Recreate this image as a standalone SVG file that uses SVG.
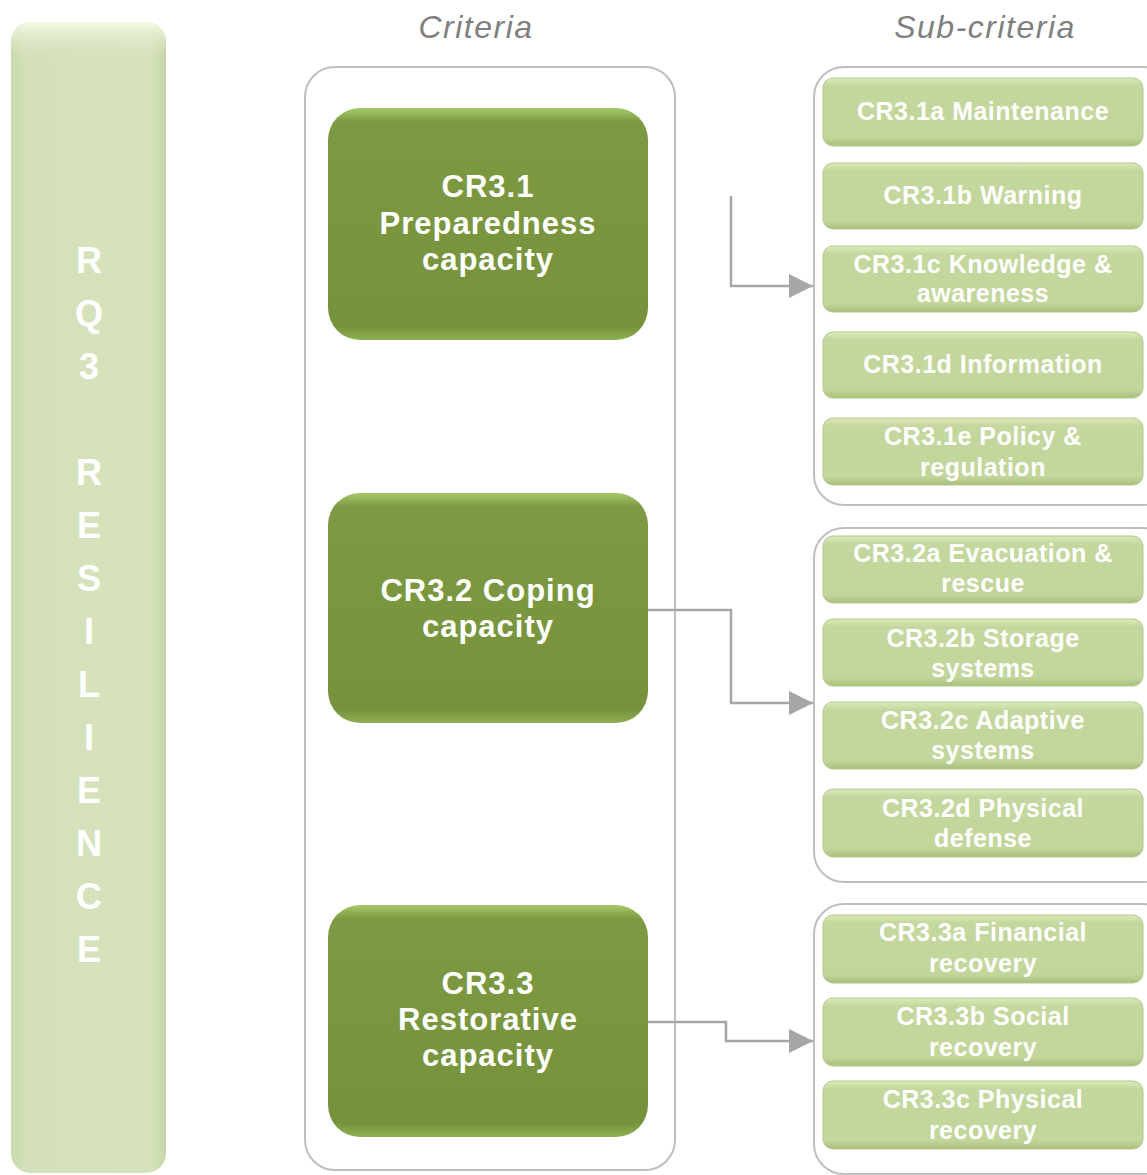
<svg xmlns="http://www.w3.org/2000/svg" width="1147" height="1175" viewBox="0 0 1147 1175">
<defs>
<linearGradient id="gBar" x1="0" y1="0" x2="1" y2="0">
<stop offset="0" stop-color="#c9d9ac"/><stop offset="0.1" stop-color="#d3e0ba"/><stop offset="0.9" stop-color="#d6e3bd"/><stop offset="1" stop-color="#c6d6a6"/>
</linearGradient>
<linearGradient id="gBarTop" x1="0" y1="0" x2="0" y2="1">
<stop offset="0" stop-color="#f4f9e4"/><stop offset="1" stop-color="#d5e2bc" stop-opacity="0"/>
</linearGradient>
<linearGradient id="gNode" x1="0" y1="0" x2="0" y2="1">
<stop offset="0" stop-color="#a7c96a"/><stop offset="0.06" stop-color="#7d9a42"/><stop offset="0.94" stop-color="#76923c"/><stop offset="1" stop-color="#8fb052"/>
</linearGradient>
<linearGradient id="gSub" x1="0" y1="0" x2="0" y2="1">
<stop offset="0" stop-color="#dcebb8"/><stop offset="0.12" stop-color="#c4d79e"/><stop offset="0.88" stop-color="#c2d59a"/><stop offset="1" stop-color="#a9bf7c"/>
</linearGradient>
<marker id="arr" viewBox="0 0 10 10" refX="10" refY="5" markerWidth="24" markerHeight="24" markerUnits="userSpaceOnUse" orient="auto">
<path d="M0,0 L10,5 L0,10 z" fill="#a6a6a6"/>
</marker>
<style>
.frame{fill:none;stroke:#bfbfbf;stroke-width:2}
.node{fill:url(#gNode)}
.sub{fill:url(#gSub);stroke:#b3c78d;stroke-width:1}
.nt{font-family:"Liberation Sans",Arial,sans-serif;font-weight:bold;font-size:31px;letter-spacing:1px;fill:#ffffff;text-anchor:middle}
.st{font-family:"Liberation Sans",Arial,sans-serif;font-weight:bold;font-size:25px;letter-spacing:0.5px;fill:#ffffff;text-anchor:middle}
.vt{font-family:"Liberation Sans",Arial,sans-serif;font-weight:bold;font-size:36px;fill:#ffffff;text-anchor:middle}
.hd{font-family:"Liberation Sans",Arial,sans-serif;font-style:italic;font-size:32px;letter-spacing:1.5px;fill:#7f7f7f;text-anchor:middle}
.conn{fill:none;stroke:#a6a6a6;stroke-width:2.5}
</style>
</defs>
<rect width="1147" height="1175" fill="#ffffff"/>

<g id="rq3">
<rect x="11" y="22" width="155" height="1151" rx="20" fill="url(#gBar)"/>
<rect x="11" y="22" width="155" height="40" rx="20" fill="url(#gBarTop)"/>
<text class="vt" x="89" y="273">R</text>
<text class="vt" x="89" y="326">Q</text>
<text class="vt" x="89" y="379">3</text>
<text class="vt" x="89" y="485">R</text>
<text class="vt" x="89" y="538">E</text>
<text class="vt" x="89" y="591">S</text>
<text class="vt" x="89" y="644">I</text>
<text class="vt" x="89" y="697">L</text>
<text class="vt" x="89" y="750">I</text>
<text class="vt" x="89" y="803">E</text>
<text class="vt" x="89" y="856">N</text>
<text class="vt" x="89" y="909">C</text>
<text class="vt" x="89" y="962">E</text>
</g>

<text class="hd" x="476" y="38">Criteria</text>
<text class="hd" x="985" y="38">Sub-criteria</text>

<g id="frames">
<rect class="frame" x="305" y="67" width="370" height="1103" rx="30"/>
<rect class="frame" x="814" y="67" width="360" height="438" rx="30"/>
<rect class="frame" x="814" y="528" width="360" height="354" rx="30"/>
<rect class="frame" x="814" y="904" width="360" height="270" rx="30"/>
</g>

<g id="connectors">
<path class="conn" d="M731,196 V286 H813" marker-end="url(#arr)"/>
<path class="conn" d="M648,610 H731 V703 H813" marker-end="url(#arr)"/>
<path class="conn" d="M648,1022 H726 V1041 H813" marker-end="url(#arr)"/>
</g>

<g id="cr31">
<rect class="node" x="328" y="108" width="320" height="232" rx="32"/>
<text class="nt" x="488" y="197">CR3.1</text>
<text class="nt" x="488" y="234">Preparedness</text>
<text class="nt" x="488" y="270">capacity</text>
</g>
<g id="cr32">
<rect class="node" x="328" y="493" width="320" height="230" rx="32"/>
<text class="nt" x="488" y="601">CR3.2 Coping</text>
<text class="nt" x="488" y="637">capacity</text>
</g>
<g id="cr33">
<rect class="node" x="328" y="905" width="320" height="232" rx="32"/>
<text class="nt" x="488" y="994">CR3.3</text>
<text class="nt" x="488" y="1030">Restorative</text>
<text class="nt" x="488" y="1066">capacity</text>
</g>

<g id="cr31a"><rect class="sub" x="823" y="78" width="320" height="68" rx="10"/><text class="st" x="983" y="120">CR3.1a Maintenance</text></g>
<g id="cr31b"><rect class="sub" x="823" y="163" width="320" height="66" rx="10"/><text class="st" x="983" y="204">CR3.1b Warning</text></g>
<g id="cr31c"><rect class="sub" x="823" y="246" width="320" height="66" rx="10"/><text class="st" x="983" y="273">CR3.1c Knowledge &amp;</text><text class="st" x="983" y="302">awareness</text></g>
<g id="cr31d"><rect class="sub" x="823" y="332" width="320" height="66" rx="10"/><text class="st" x="983" y="373">CR3.1d Information</text></g>
<g id="cr31e"><rect class="sub" x="823" y="418" width="320" height="67" rx="10"/><text class="st" x="983" y="445">CR3.1e Policy &amp;</text><text class="st" x="983" y="476">regulation</text></g>

<g id="cr32a"><rect class="sub" x="823" y="536" width="320" height="67" rx="10"/><text class="st" x="983" y="562">CR3.2a Evacuation &amp;</text><text class="st" x="983" y="592">rescue</text></g>
<g id="cr32b"><rect class="sub" x="823" y="619" width="320" height="67" rx="10"/><text class="st" x="983" y="647">CR3.2b Storage</text><text class="st" x="983" y="677">systems</text></g>
<g id="cr32c"><rect class="sub" x="823" y="702" width="320" height="67" rx="10"/><text class="st" x="983" y="729">CR3.2c Adaptive</text><text class="st" x="983" y="759">systems</text></g>
<g id="cr32d"><rect class="sub" x="823" y="789" width="320" height="68" rx="10"/><text class="st" x="983" y="817">CR3.2d Physical</text><text class="st" x="983" y="847">defense</text></g>

<g id="cr33a"><rect class="sub" x="823" y="915" width="320" height="68" rx="10"/><text class="st" x="983" y="941">CR3.3a Financial</text><text class="st" x="983" y="972">recovery</text></g>
<g id="cr33b"><rect class="sub" x="823" y="998" width="320" height="68" rx="10"/><text class="st" x="983" y="1025">CR3.3b Social</text><text class="st" x="983" y="1056">recovery</text></g>
<g id="cr33c"><rect class="sub" x="823" y="1081" width="320" height="68" rx="10"/><text class="st" x="983" y="1108">CR3.3c Physical</text><text class="st" x="983" y="1139">recovery</text></g>
</svg>
